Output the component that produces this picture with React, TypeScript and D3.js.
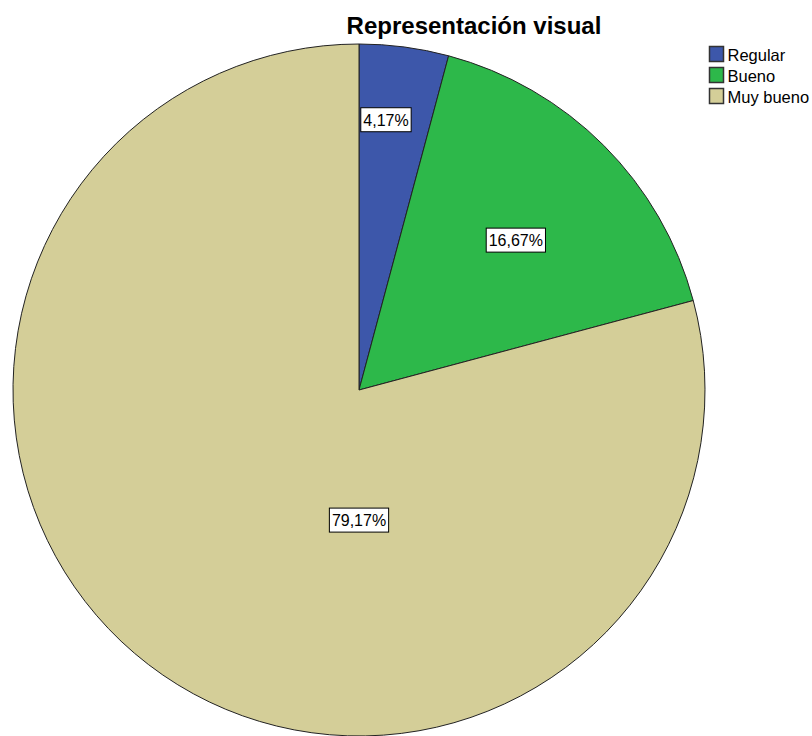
import { useRef, useEffect } from 'react'
import * as d3 from 'd3'

const WIDTH = 812
const HEIGHT = 736
const CATEGORIES = ['Regular', 'Bueno', 'Muy bueno']
const VALUES = [4.17, 16.67, 79.17]
const LABELS = ['4,17%', '16,67%', '79,17%']
const COLORS = ['#3d57aa', '#2db84a', '#d4ce98']
// label placement: [radius fraction, angle in degrees from 12 o'clock]
const LABEL_POS: [number, number][] = [
  [0.785, 5.7],
  [0.627, 46.3],
  [0.376, 180],
]

export default function App() {
  const svgRef = useRef<SVGSVGElement>(null)

  useEffect(() => {
    if (!svgRef.current) return
    const svg = d3.select(svgRef.current)
    svg.selectAll('*').remove()

    const cx = 359
    const cy = 390
    const r = 346
    const font = '"Liberation Sans", Arial, sans-serif'

    const pie = d3.pie<number>().sort(null).value((d) => d)
    const arcs = pie(VALUES)
    const arc = d3.arc<d3.PieArcDatum<number>>().innerRadius(0).outerRadius(r)

    const g = svg.append('g').attr('transform', `translate(${cx},${cy})`)
    g.selectAll('path')
      .data(arcs)
      .join('path')
      .attr('d', arc)
      .attr('fill', (_d, i) => COLORS[i])
      .attr('stroke', '#222')
      .attr('stroke-width', 1)

    const labels = g
      .selectAll('g.lbl')
      .data(arcs)
      .join('g')
      .attr('class', 'lbl')
      .attr('transform', (_d, i) => {
        const [f, a] = LABEL_POS[i]
        const rad = (a * Math.PI) / 180
        return `translate(${f * r * Math.sin(rad)},${-f * r * Math.cos(rad)})`
      })

    labels.each(function (_d, i) {
      const lg = d3.select(this)
      const t = lg
        .append('text')
        .attr('text-anchor', 'middle')
        .attr('y', 6)
        .attr('font-family', font)
        .attr('font-size', 16)
        .attr('fill', '#000')
        .text(LABELS[i])
      const bb = (t.node() as SVGTextElement).getBBox()
      lg.insert('rect', 'text')
        .attr('x', bb.x - 2.5)
        .attr('y', -12)
        .attr('width', bb.width + 5)
        .attr('height', 24)
        .attr('fill', '#fff')
        .attr('stroke', '#000')
        .attr('stroke-width', 1)
    })

    svg.append('text')
      .attr('x', 474)
      .attr('y', 34)
      .attr('text-anchor', 'middle')
      .attr('font-family', font)
      .attr('font-weight', 'bold')
      .attr('font-size', 24)
      .attr('fill', '#000')
      .text('Representación visual')

    const legend = svg.append('g').attr('transform', 'translate(709,46)')
    const rows = legend
      .selectAll('g')
      .data(CATEGORIES)
      .join('g')
      .attr('transform', (_d, i) => `translate(0,${i * 21})`)
    rows.append('rect')
      .attr('x', 0.5)
      .attr('y', 0.5)
      .attr('width', 14)
      .attr('height', 15)
      .attr('fill', (_d, i) => COLORS[i])
      .attr('stroke', '#333')
      .attr('stroke-width', 1.5)
    rows.append('text')
      .attr('x', 18.5)
      .attr('y', 15)
      .attr('font-family', font)
      .attr('font-size', 16.5)
      .attr('fill', '#000')
      .text((d) => d)
  }, [])

  return (
    <svg
      ref={svgRef}
      width={WIDTH}
      height={HEIGHT}
      style={{ position: 'absolute', left: 0, top: 0, display: 'block', background: '#fff' }}
    />
  )
}
